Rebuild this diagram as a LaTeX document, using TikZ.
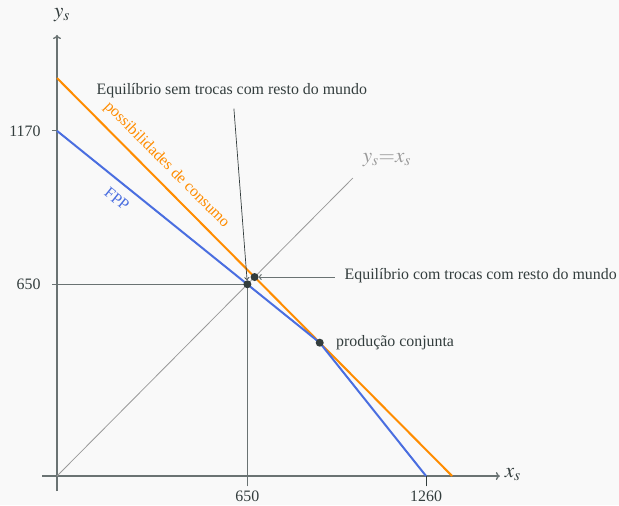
\documentclass[tikz,border=0pt]{standalone}
\usepackage{mathptmx}
\usepackage{fontspec}
\setmainfont{Liberation Serif}
\usetikzlibrary{arrows.meta}
\definecolor{bgc}{HTML}{F9F9F9}
\definecolor{txt}{HTML}{333D3D}
\definecolor{axc}{HTML}{6A7373}
\definecolor{diagc}{HTML}{9A9A9A}
\definecolor{fppc}{HTML}{4A6EE0}
\definecolor{orc}{HTML}{FF8C00}
\tikzset{
  axis/.style={draw=axc, line width=1.3pt, -{To[length=4pt,width=8pt]}},
  lbl/.style={text=txt, font=\fontsize{15.9}{18}\selectfont, inner sep=1pt},
  mlbl/.style={text=txt, font=\fontsize{21}{24}\selectfont, inner sep=1pt},
  dot/.style={circle, fill=txt, inner sep=0pt, minimum size=8pt},
  guide/.style={draw=axc, line width=1.1pt},
}
\begin{document}
\begin{tikzpicture}[x=0.2929pt, y=0.295pt]
\fill[bgc] (-194.6,-98.3) rectangle (1918.7,1613.6);
\useasboundingbox (-194.6,-98.3) rectangle (1918.7,1613.6);
% axes
\coordinate (O) at (0,0);
\coordinate (xs) at (-51,0);
\coordinate (xe) at (1512,0);
\coordinate (ys) at (0,-51);
\coordinate (ye) at (0,1495);
\draw[axis] (xs) -- (xe);
\draw[axis] (ys) -- (ye);
\node[mlbl, anchor=west] (xlab) at (1525,6) {$x_s$};
\node[mlbl] (ylab) at (17,1562) {$y_s$};
% diagonal
\coordinate (d1) at (1010,1010);
\draw[diagc, line width=0.8pt] (O) -- (d1);
\node[mlbl, text=diagc, anchor=west] (dlab) at (1040,1070) {$y_s{=}x_s$};
% guides at 650
\coordinate (g1) at (650,-35);
\coordinate (g2) at (650,650);
\coordinate (g3) at (-17,650);
\draw[guide] (g1) -- (g2) -- (g3);
% ticks
\coordinate (t1a) at (-17,1170);
\coordinate (t1b) at (0,1170);
\draw[guide] (t1a) -- (t1b);
\coordinate (t2a) at (1260,-35);
\coordinate (t2b) at (1260,0);
\draw[txt, line width=1.1pt] (t2a) -- (t2b);
\node[lbl, anchor=east] (l1170) at (-52,1170) {1170};
\node[lbl, anchor=east] (l650y) at (-52,650) {650};
\node[lbl, anchor=north] (l650x) at (650,-45) {650};
\node[lbl, anchor=north] (l1260) at (1260,-45) {1260};
% consumption line
\coordinate (c1) at (0,1349);
\coordinate (c2) at (1349,0);
\draw[orc, line width=2pt] (c1) -- node[pos=0.248, sloped, above=5pt, text=orc, font=\fontsize{15.9}{18}\selectfont] (cl) {possibilidades de consumo} (c2);
% FPP
\coordinate (f1) at (0,1170);
\coordinate (P) at (897,452);
\coordinate (f2) at (1260,0);
\draw[fppc, line width=2pt] (f1) -- node[pos=0.265, sloped, below=6pt, text=fppc, font=\fontsize{15.9}{18}\selectfont] (fl) {FPP} (P) -- (f2);
% dots
\node[dot] (E0) at (650,650) {};
\node[dot] (E1) at (674.5,674.5) {};
\node[dot] (PP) at (P) {};
% annotations
\node[lbl] (a0) at (597,1306) {Equilíbrio sem trocas com resto do mundo};
\coordinate (a0s) at (604,1245);
\draw[txt, line width=0.7pt, -{To[length=3pt,width=5pt]}] (a0s) -- (E0);
\node[lbl, anchor=west] (a1) at (978,678) {Equilíbrio com trocas com resto do mundo};
\coordinate (a1s) at (949,674.5);
\draw[axc, line width=1pt, -{To[length=3pt,width=6pt]}] (a1s) -- (E1);
\node[lbl, anchor=west] (a2) at (949,451) {produção conjunta};
\end{tikzpicture}
\end{document}
